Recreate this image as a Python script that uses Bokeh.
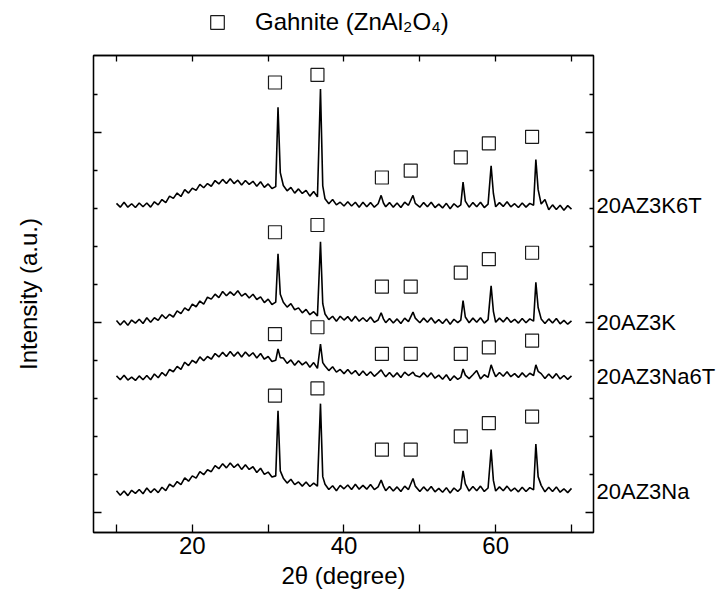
from bokeh.plotting import figure
from bokeh.layouts import column
from bokeh.models import (Range1d, LinearAxis, FixedTicker, Legend, LegendItem,
                          CustomJSTickFormatter)
from bokeh.core.properties import value
from bokeh.embed import file_html
from bokeh.resources import INLINE

# ---------------- data ----------------
two_theta = [
    10.0, 10.5, 11.0, 11.5, 12.0, 12.5, 13.0, 13.5, 14.0, 14.5,
    15.0, 15.5, 16.0, 16.5, 17.0, 17.5, 18.0, 18.5, 19.0, 19.5,
    20.0, 20.5, 21.0, 21.5, 22.0, 22.5, 23.0, 23.5, 24.0, 24.5,
    25.0, 25.5, 26.0, 26.5, 27.0, 27.5, 28.0, 28.5, 29.0, 29.5,
    30.0, 30.5, 31.0,
    31.3, 31.6,
    32.0, 32.5, 33.0, 33.5, 34.0, 34.5, 35.0, 35.5, 36.0, 36.5,
    36.9, 37.2,
    37.5, 38.0, 38.5, 39.0, 39.5, 40.0, 40.5, 41.0, 41.5, 42.0, 42.5, 43.0, 43.5, 44.0, 44.5,
    44.9, 45.2,
    45.5, 46.0, 46.5, 47.0, 47.5, 48.0, 48.5,
    49.1, 49.4,
    50.0, 50.5, 51.0, 51.5, 52.0, 52.5, 53.0, 53.5, 54.0, 54.5, 55.0,
    55.4, 55.7,
    56.0, 56.5, 57.0, 57.5, 58.0, 58.5, 59.0,
    59.4, 59.7,
    60.0, 60.5, 61.0, 61.5, 62.0, 62.5, 63.0, 63.5, 64.0, 64.5, 65.0,
    65.3, 65.6,
    66.0, 66.5, 67.0, 67.5, 68.0, 68.5, 69.0, 69.5, 70.0,
]

int_20AZ3Na = [
    0.58, 0.46, 0.57, 0.45, 0.59, 0.51, 0.61, 0.50, 0.65, 0.53,
    0.63, 0.53, 0.67, 0.58, 0.75, 0.68, 0.82, 0.74, 0.92, 0.83,
    0.97, 0.91, 1.08, 1.00, 1.13, 1.08, 1.24, 1.16, 1.29, 1.18,
    1.31, 1.19, 1.28, 1.14, 1.26, 1.14, 1.21, 1.06, 1.17, 1.01,
    1.07, 0.94, 0.97,
    2.68, 1.10,
    0.91, 0.78, 0.88, 0.74, 0.81, 0.70, 0.81, 0.69, 0.78, 0.70,
    2.87, 0.95,
    0.75, 0.61, 0.71, 0.58, 0.72, 0.63, 0.73, 0.61, 0.75, 0.62, 0.72, 0.62, 0.74, 0.61, 0.68,
    0.86, 0.70,
    0.58, 0.69, 0.57, 0.68, 0.56, 0.70, 0.61,
    0.90, 0.70,
    0.56, 0.68, 0.57, 0.69, 0.55, 0.64, 0.54, 0.66, 0.52, 0.65, 0.56,
    0.64, 1.10,
    0.76, 0.57, 0.69, 0.58, 0.70, 0.56, 0.65,
    1.66, 0.85,
    0.57, 0.68, 0.58, 0.70, 0.57, 0.65, 0.55, 0.67, 0.56, 0.66, 0.60,
    1.81, 0.95,
    0.72, 0.55, 0.67, 0.56, 0.68, 0.54, 0.63, 0.53, 0.64,
]

int_20AZ3Na6T = [
    3.60, 3.50, 3.62, 3.49, 3.57, 3.48, 3.60, 3.50, 3.61, 3.50,
    3.65, 3.55, 3.69, 3.60, 3.77, 3.71, 3.85, 3.77, 3.96, 3.87,
    4.01, 3.94, 4.10, 4.00, 4.11, 4.04, 4.19, 4.10, 4.22, 4.11,
    4.24, 4.12, 4.23, 4.10, 4.23, 4.12, 4.21, 4.07, 4.19, 4.04,
    4.11, 3.98, 4.01,
    4.31, 4.08,
    4.07, 3.93, 4.02, 3.88, 4.00, 3.89, 3.97, 3.83, 3.95, 3.80,
    4.44, 3.95,
    3.86, 3.74, 3.84, 3.70, 3.77, 3.66, 3.77, 3.65, 3.74, 3.61, 3.73, 3.61, 3.71, 3.59, 3.68,
    3.76, 3.66,
    3.58, 3.69, 3.57, 3.68, 3.56, 3.70, 3.61,
    3.70, 3.61,
    3.57, 3.68, 3.57, 3.68, 3.54, 3.62, 3.51, 3.63, 3.48, 3.60, 3.51,
    3.56, 3.78,
    3.62, 3.53, 3.63, 3.74, 3.52, 3.63, 3.56,
    3.89, 3.72,
    3.58, 3.69, 3.59, 3.71, 3.58, 3.66, 3.56, 3.68, 3.57, 3.67, 3.61,
    3.89, 3.72,
    3.66, 3.53, 3.65, 3.54, 3.66, 3.52, 3.61, 3.51, 3.60,
]

int_20AZ3K = [
    5.06, 4.94, 5.05, 4.93, 5.07, 4.99, 5.09, 4.98, 5.13, 5.01,
    5.13, 5.06, 5.21, 5.11, 5.22, 5.15, 5.31, 5.24, 5.39, 5.32,
    5.49, 5.42, 5.57, 5.49, 5.67, 5.62, 5.75, 5.66, 5.82, 5.71,
    5.81, 5.72, 5.84, 5.70, 5.77, 5.65, 5.75, 5.61, 5.68, 5.53,
    5.62, 5.48, 5.54,
    6.81, 5.75,
    5.54, 5.41, 5.50, 5.34, 5.39, 5.26, 5.35, 5.21, 5.29, 5.18,
    7.13, 5.50,
    5.23, 5.08, 5.17, 5.04, 5.17, 5.07, 5.16, 5.04, 5.17, 5.04, 5.13, 5.03, 5.15, 5.01, 5.07,
    5.26, 5.10,
    5.00, 5.11, 4.99, 5.10, 4.98, 5.12, 5.03,
    5.28, 5.12,
    5.00, 5.12, 5.01, 5.13, 4.99, 5.08, 4.98, 5.10, 4.96, 5.09, 5.00,
    5.07, 5.58,
    5.15, 5.00, 5.12, 5.01, 5.13, 4.99, 5.08,
    5.97, 5.30,
    5.01, 5.12, 5.02, 5.14, 5.01, 5.09, 4.99, 5.11, 5.00, 5.10, 5.04,
    6.06, 5.40,
    5.10, 4.98, 5.10, 4.99, 5.11, 4.97, 5.06, 4.96, 5.05,
]

int_20AZ3K6T = [
    8.14, 8.04, 8.17, 8.04, 8.13, 8.03, 8.15, 8.05, 8.15, 8.04,
    8.18, 8.10, 8.24, 8.16, 8.33, 8.27, 8.41, 8.32, 8.50, 8.41,
    8.54, 8.48, 8.64, 8.55, 8.66, 8.59, 8.74, 8.65, 8.77, 8.66,
    8.79, 8.66, 8.75, 8.62, 8.74, 8.64, 8.72, 8.59, 8.71, 8.56,
    8.65, 8.53, 8.58,
    10.67, 8.95,
    8.61, 8.47, 8.56, 8.41, 8.52, 8.40, 8.48, 8.33, 8.45, 8.31,
    11.15, 8.60,
    8.26, 8.13, 8.24, 8.10, 8.17, 8.07, 8.18, 8.07, 8.17, 8.04, 8.17, 8.05, 8.16, 8.04, 8.13,
    8.35, 8.15,
    8.05, 8.16, 8.04, 8.15, 8.03, 8.17, 8.09,
    8.35, 8.14,
    8.04, 8.16, 8.05, 8.17, 8.03, 8.12, 8.02, 8.14, 8.00, 8.13, 8.04,
    8.10, 8.70,
    8.20, 8.04, 8.16, 8.05, 8.17, 8.03, 8.12,
    9.13, 8.40,
    8.05, 8.16, 8.06, 8.18, 8.05, 8.13, 8.03, 8.15, 8.04, 8.14, 8.09,
    9.29, 8.50,
    8.12, 8.24, 7.97, 8.10, 7.98, 8.09, 7.96, 8.08, 7.99,
]

# Gahnite reflection markers (2theta, height) per pattern
mark_theta = [30.9, 36.5, 45.0, 48.8, 55.4, 59.1, 64.8]
mark_20AZ3K6T = [11.32, 11.52, 8.82, 9.00, 9.35, 9.72, 9.89]
mark_20AZ3K = [7.38, 7.57, 5.95, 5.95, 6.32, 6.67, 6.84]
mark_20AZ3Na6T = [4.70, 4.88, 4.18, 4.18, 4.18, 4.35, 4.53]
mark_20AZ3Na = [3.08, 3.27, 1.66, 1.66, 2.01, 2.36, 2.53]

# sample names (bottom to top) and the baseline level each one is written at
sample_names = ["20AZ3Na", "20AZ3Na6T", "20AZ3K", "20AZ3K6T"]
sample_levels = [0.55, 3.58, 5.01, 8.09]

x_ticks = [20, 40, 60]
x_minor_ticks = [10, 30, 50, 70]
y_ticks = [0, 5, 10]
y_minor_ticks = [1, 2, 3, 4, 6, 7, 8, 9, 11]
legend_text = "Gahnite (ZnAl\u2082O\u2084)"
x_title = "2\u03b8 (degree)"
y_title = "Intensity (a.u.)"

for arr in (int_20AZ3Na, int_20AZ3Na6T, int_20AZ3K, int_20AZ3K6T):
    assert len(arr) == len(two_theta), len(arr)

FONT = "Liberation Sans"
MARK = dict(marker="square", size=13, fill_color=None, line_color="#1a1a1a",
            line_width=1.2)

# ---------------- header strip holding the legend ----------------
HEADER_H = 53
header = figure(width=719, height=HEADER_H, output_backend="svg",
                toolbar_location=None, x_axis_type=None, y_axis_type=None,
                x_range=Range1d(0, 1), y_range=Range1d(0, 1), min_border=0)
header.outline_line_color = None
header.background_fill_color = "white"
header.border_fill_color = "white"
# the key glyph (its points fall outside this strip's ranges, only the legend shows)
key = header.scatter(mark_theta, mark_20AZ3K6T, **MARK)
leg = Legend(items=[LegendItem(label=value(legend_text), renderers=[key])],
             location=(107, 14), orientation="horizontal",
             padding=0, margin=0, spacing=0, glyph_width=34, glyph_height=34,
             label_standoff=21, label_text_font=FONT,
             label_text_font_size="24px", label_text_color="black",
             border_line_alpha=0, background_fill_alpha=0)
header.add_layout(leg)

# ---------------- main plot ----------------
p = figure(width=719, height=601 - HEADER_H, output_backend="svg",
           toolbar_location=None,
           x_range=Range1d(6.97, 72.9), y_range=Range1d(-0.52, 12.03),
           min_border_left=93, min_border_right=126, min_border_top=2,
           min_border_bottom=69)
p.xgrid.visible = False
p.ygrid.visible = False
p.outline_line_color = "black"
p.outline_line_width = 1.3
p.background_fill_color = "white"
p.border_fill_color = "white"

xt = FixedTicker(ticks=x_ticks, minor_ticks=x_minor_ticks)
yt = FixedTicker(ticks=y_ticks, minor_ticks=y_minor_ticks)


def style_axis(ax, ticker, maj, mnr, labels=True):
    ax.ticker = ticker
    ax.major_tick_in = maj
    ax.major_tick_out = 0
    ax.minor_tick_in = mnr
    ax.minor_tick_out = 0
    ax.axis_line_color = "black"
    ax.axis_line_width = 1.3
    ax.major_tick_line_color = "black"
    ax.minor_tick_line_color = "black"
    ax.major_tick_line_width = 1.3
    ax.minor_tick_line_width = 1.3
    ax.major_label_text_font = FONT
    ax.major_label_text_color = "black"
    ax.axis_label_text_font = FONT
    ax.axis_label_text_font_style = "normal"
    ax.axis_label_text_color = "black"
    ax.axis_label_text_font_size = "24px"
    if labels:
        ax.major_label_text_font_size = "24px"
        ax.major_label_standoff = 4
    else:
        ax.major_label_overrides = {t: "" for t in ticker.ticks}
        ax.major_label_text_font_size = "0px"
        ax.major_label_standoff = 0


xax = p.xaxis[0]
style_axis(xax, xt, 8, 8, labels=True)
xax.axis_label = x_title
xax.axis_label_standoff = 5

yax = p.yaxis[0]
style_axis(yax, yt, 8, 4, labels=False)
yax.axis_label = y_title
yax.axis_label_standoff = 52

top_ax = LinearAxis()
style_axis(top_ax, xt, 6, 6, labels=False)
p.add_layout(top_ax, "above")

right_ax = LinearAxis()
style_axis(right_ax, yt, 8, 4, labels=False)
p.add_layout(right_ax, "right")

# sample names written at the right, next to each pattern
name_ax = LinearAxis(ticker=FixedTicker(ticks=sample_levels, minor_ticks=[]),
                     formatter=CustomJSTickFormatter(args=dict(names=sample_names),
                                                     code="return names[index];"))
name_ax.axis_line_color = None
name_ax.major_tick_line_color = None
name_ax.minor_tick_line_color = None
name_ax.major_tick_in = 0
name_ax.major_tick_out = 0
name_ax.minor_tick_in = 0
name_ax.minor_tick_out = 0
name_ax.major_label_standoff = 3
name_ax.major_label_text_font = FONT
name_ax.major_label_text_font_size = "22px"
name_ax.major_label_text_color = "black"
p.add_layout(name_ax, "right")

# patterns
for ys in (int_20AZ3Na, int_20AZ3Na6T, int_20AZ3K, int_20AZ3K6T):
    p.line(two_theta, ys, line_color="black", line_width=1.6)

# reflection markers
p.scatter(mark_theta * 4,
          mark_20AZ3K6T + mark_20AZ3K + mark_20AZ3Na6T + mark_20AZ3Na, **MARK)

page = column(header, p, spacing=0)
open("out.html", "w").write(file_html(page, INLINE))
